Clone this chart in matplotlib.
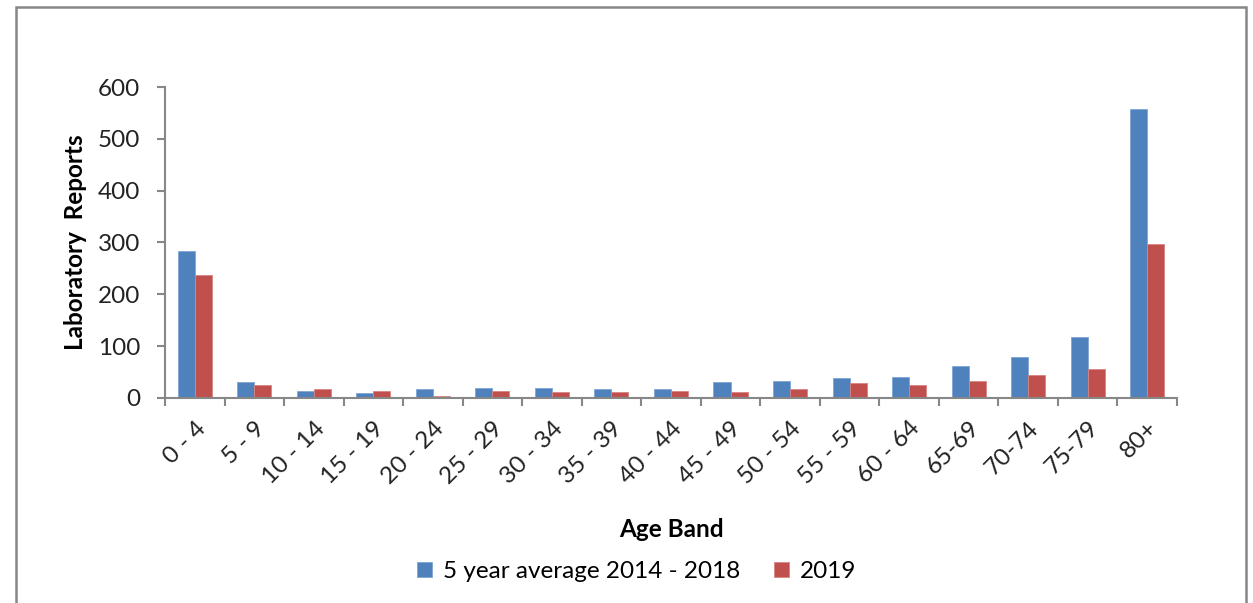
import numpy as np
import matplotlib.pyplot as plt
from matplotlib.patches import Rectangle

# laboratory reports by age band
age_bands = ['0 - 4', '5 - 9', '10 - 14', '15 - 19', '20 - 24', '25 - 29', '30 - 34',
             '35 - 39', '40 - 44', '45 - 49', '50 - 54', '55 - 59', '60 - 64',
             '65-69', '70-74', '75-79', '80+']
avg_2014_2018 = [284, 30, 14, 9, 17, 19, 19, 17, 17, 31, 33, 39, 41, 61, 79, 118, 557]
reports_2019 = [237, 26, 17, 14, 3, 14, 12, 12, 14, 12, 17, 28, 25, 32, 45, 55, 297]

plt.rcParams['font.family'] = ['Lato', 'DejaVu Sans']
grey = '#878787'
fs = 17.5

fig = plt.figure(figsize=(12.53, 6.03), dpi=100)
ax = fig.add_axes([0.1317, 0.340, 0.8076, 0.5157])

x = np.arange(len(age_bands))
w = 0.286
ax.bar(x - w / 2, avg_2014_2018, w, color='#4F81BD', edgecolor='#7FA6D6', linewidth=0.6,
       label='5 year average 2014 - 2018')
ax.bar(x + w / 2, reports_2019, w, color='#C0504D', edgecolor='#D88583', linewidth=0.6,
       label='2019')

ax.set_xlim(-0.5, len(age_bands) - 0.5)
ax.set_ylim(0, 600)
ax.set_yticks(range(0, 601, 100))
ax.tick_params(axis='y', labelsize=fs, colors=grey, labelcolor='#222222',
               length=6, width=1.5, pad=12)

# ticks between categories, labels at the centres
ax.set_xticks(x)
ax.set_xticks(np.arange(-0.5, len(age_bands)), minor=True)
ax.set_xticklabels(age_bands, rotation=45, ha='right', rotation_mode='anchor')
ax.tick_params(axis='x', which='major', length=0, labelsize=fs, labelcolor='#222222', pad=14)
ax.tick_params(axis='x', which='minor', length=6, width=1.5, colors=grey)

for side in ['top', 'right']:
    ax.spines[side].set_visible(False)
for side in ['left', 'bottom']:
    ax.spines[side].set_color(grey)
    ax.spines[side].set_linewidth(1.5)

ax.set_ylabel('Laboratory  Reports', fontsize=fs, fontweight='bold', labelpad=8)
ax.set_xlabel('Age Band', fontsize=fs, fontweight='bold', labelpad=22)

ax.legend(loc='upper center', bbox_to_anchor=(0.466, -0.455), ncol=2, frameon=False,
          fontsize=fs, handlelength=0.6, handleheight=0.6, handletextpad=0.45,
          columnspacing=1.4)

# chart frame
fig.add_artist(Rectangle((16 / 1253, -0.1), 1230 / 1253, 1.1 - 7 / 603,
                         transform=fig.transFigure, fill=False, edgecolor=grey, linewidth=1.8))

fig.savefig('out.png', dpi=100)
